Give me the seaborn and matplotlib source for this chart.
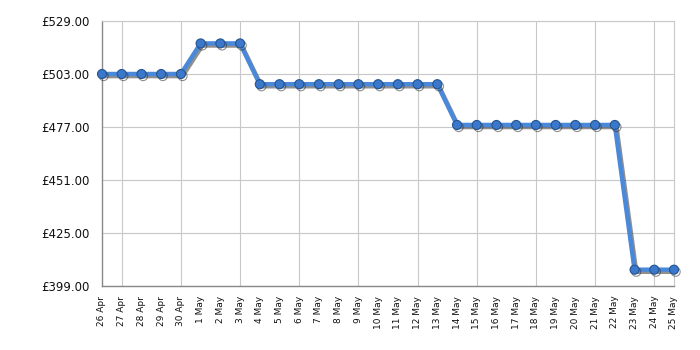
import matplotlib
matplotlib.use("Agg")
import matplotlib.pyplot as plt
import matplotlib.patheffects as pe
import seaborn as sns
import pandas as pd
import numpy as np

dates = ["26 Apr", "27 Apr", "28 Apr", "29 Apr", "30 Apr",
         "1 May", "2 May", "3 May", "4 May", "5 May", "6 May", "7 May",
         "8 May", "9 May", "10 May", "11 May", "12 May", "13 May", "14 May",
         "15 May", "16 May", "17 May", "18 May", "19 May", "20 May", "21 May",
         "22 May", "23 May", "24 May", "25 May"]
prices = [503, 503, 503, 503, 503,
          518, 518, 518,
          498, 498, 498, 498, 498, 498, 498, 498, 498, 498,
          478, 478, 478, 478, 478, 478, 478, 478, 478,
          407, 407, 407]
y_ticks = [399, 425, 451, 477, 503, 529]
y_labels = ["£399.00", "£425.00", "£451.00", "£477.00", "£503.00", "£529.00"]

df = pd.DataFrame({"idx": range(len(dates)), "price": prices})

sns.set_style("white")
plt.rcParams['font.family'] = ['DejaVu Sans']

fig = plt.figure(figsize=(7, 3.5), dpi=100)
ax = fig.add_axes([102/700, (350-286)/350, 572/700, 265/350])

sns.lineplot(data=df, x="idx", y="price", ax=ax, color="#4a88da", linewidth=3.2,
             marker="o", markersize=6.5, markerfacecolor="#3b78cc",
             markeredgecolor="#24558f", markeredgewidth=0.8,
             path_effects=[pe.SimpleLineShadow(offset=(1.2, -1.5), shadow_color="#333333", alpha=0.55),
                           pe.Normal()],
             clip_on=False, zorder=5)

ax.set_xlim(0, len(dates) - 1)
ax.set_ylim(399, 529)
ax.set_yticks(y_ticks)
ax.set_yticklabels(y_labels, fontsize=8.5, color="#111111")
ax.xaxis.remove_overlapping_locs = False
ax.set_xticks(range(len(dates)))
ax.set_xticklabels(dates, rotation=90, fontsize=6.5, color="#111111")
ax.tick_params(axis="x", which="major", length=0, pad=7)
ax.set_xticks(list(range(1, len(dates), 3)), minor=True)
ax.tick_params(axis="x", which="minor", length=5, width=1, color="black", direction="out")
ax.tick_params(axis="y", which="major", length=7, width=1, color="black", direction="out", pad=2)

ax.grid(False, axis="x", which="major")
ax.grid(True, axis="y", which="major", color="#c8c8c8", linewidth=0.8)
ax.grid(True, axis="x", which="minor", color="#c8c8c8", linewidth=0.8)
ax.set_axisbelow(True)

for s in ["left", "bottom"]:
    ax.spines[s].set_color("#888888")
    ax.spines[s].set_linewidth(1)
for s in ["top", "right"]:
    ax.spines[s].set_color("#c8c8c8")
    ax.spines[s].set_linewidth(0.8)

ax.set_xlabel("")
ax.set_ylabel("")
fig.savefig("out.png", dpi=100)
